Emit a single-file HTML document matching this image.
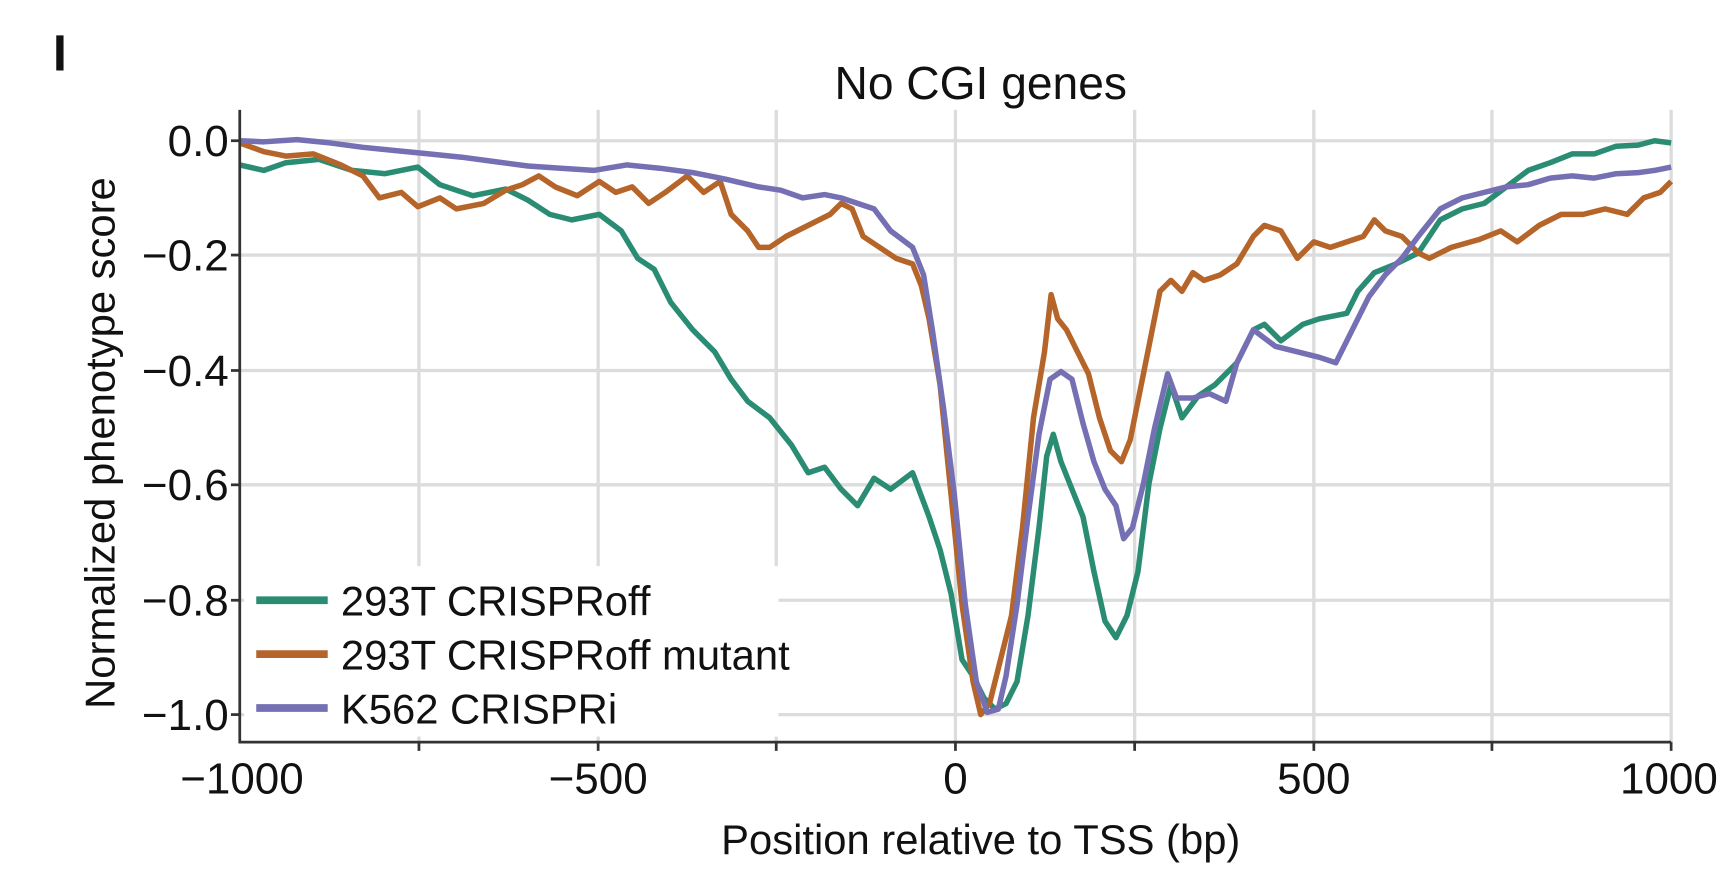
<!DOCTYPE html>
<html><head><meta charset="utf-8"><style>
html,body{margin:0;padding:0;background:#fff;}
svg{display:block;font-family:"Liberation Sans",Arial,sans-serif;}
</style></head><body>
<svg width="1724" height="874" viewBox="0 0 1568 795" xmlns="http://www.w3.org/2000/svg">
<rect width="1568" height="795" fill="#fff"/>
<text x="48" y="64" font-size="46" font-weight="bold" fill="#111">I</text>
<text x="892" y="90" font-size="42" text-anchor="middle" fill="#111">No CGI genes</text>
<g stroke="#dcdcdc" stroke-width="3">
<line x1="381" y1="100" x2="381" y2="675"/><line x1="544" y1="100" x2="544" y2="675"/>
<line x1="706" y1="100" x2="706" y2="675"/><line x1="869" y1="100" x2="869" y2="675"/>
<line x1="1032" y1="100" x2="1032" y2="675"/><line x1="1195" y1="100" x2="1195" y2="675"/>
<line x1="1357" y1="100" x2="1357" y2="675"/><line x1="1520" y1="100" x2="1520" y2="675"/>
<line x1="218" y1="128" x2="1520" y2="128"/><line x1="218" y1="232" x2="1520" y2="232"/>
<line x1="218" y1="337" x2="1520" y2="337"/><line x1="218" y1="441" x2="1520" y2="441"/>
<line x1="218" y1="546" x2="1520" y2="546"/><line x1="218" y1="650" x2="1520" y2="650"/>
</g>
<g fill="none" stroke-width="5" stroke-linejoin="round">
<polyline stroke="#2a8c72" points="218,150 240,155 260,148 290,145 320,155 350,158 380,152 400,168 430,178 460,172 480,182 500,195 520,200 545,195 565,210 580,235 595,245 610,275 630,300 650,320 665,345 680,365 700,380 720,405 735,430 750,425 765,445 780,460 795,435 810,445 830,430 845,470 855,500 865,540 875,600 885,615 895,635 905,645 915,640 925,620 935,560 945,480 952,415 958,395 965,420 975,445 985,470 995,520 1005,565 1015,580 1025,560 1035,520 1045,440 1055,390 1065,350 1075,380 1090,360 1105,350 1125,330 1140,300 1150,295 1165,310 1185,295 1200,290 1225,285 1235,265 1250,248 1270,240 1290,230 1310,200 1330,190 1350,185 1370,170 1390,155 1410,148 1430,140 1450,140 1470,133 1490,132 1505,128 1520,130"/>
<polyline stroke="#b5652a" points="218,130 240,138 260,142 285,140 310,150 330,160 345,180 365,175 380,188 400,180 415,190 440,185 460,173 475,168 490,160 505,170 525,178 545,165 560,175 575,170 590,185 605,175 625,160 640,175 655,165 665,195 680,210 690,225 700,225 715,215 735,205 755,195 765,185 775,190 785,215 800,225 815,235 830,240 838,260 845,290 855,350 865,450 875,550 885,620 892,650 900,640 910,600 920,560 930,480 940,380 950,320 956,268 962,290 970,300 980,320 990,340 1000,380 1010,410 1020,420 1028,400 1040,340 1048,300 1055,265 1065,255 1075,265 1085,248 1095,255 1110,250 1125,240 1140,215 1150,205 1165,210 1180,235 1195,220 1210,225 1225,220 1240,215 1250,200 1260,210 1275,215 1290,230 1300,235 1320,225 1345,218 1365,210 1380,220 1400,205 1420,195 1440,195 1460,190 1480,195 1495,180 1510,175 1520,165"/>
<polyline stroke="#7570b3" points="218,128 240,129 270,127 300,130 330,134 360,137 390,140 420,143 450,147 480,151 510,153 540,155 570,150 600,153 630,157 660,163 690,170 710,173 730,180 750,177 765,180 780,185 795,190 810,210 830,225 840,250 848,300 858,370 868,450 878,550 888,620 898,648 908,645 915,615 925,550 935,470 945,395 955,345 965,338 975,345 985,385 995,420 1005,445 1015,460 1022,490 1030,480 1040,440 1050,390 1062,340 1070,362 1085,362 1100,358 1115,365 1125,330 1140,300 1160,315 1180,320 1200,325 1215,330 1230,300 1245,270 1260,250 1275,235 1290,215 1310,190 1330,180 1350,175 1370,170 1390,168 1410,162 1430,160 1450,162 1470,158 1490,157 1505,155 1520,152"/>
</g>
<rect x="222" y="515" width="486" height="155" fill="#fff"/>
<g stroke-width="7">
<line x1="233" y1="546" x2="298" y2="546" stroke="#2a8c72"/>
<line x1="233" y1="595" x2="298" y2="595" stroke="#b5652a"/>
<line x1="233" y1="644" x2="298" y2="644" stroke="#7570b3"/>
</g>
<g font-size="38" fill="#111">
<text x="310" y="560">293T CRISPRoff</text>
<text x="310" y="609">293T CRISPRoff mutant</text>
<text x="310" y="658">K562 CRISPRi</text>
</g>
<g stroke="#333" stroke-width="2.5">
<line x1="218" y1="100" x2="218" y2="676"/>
<line x1="217" y1="675" x2="1520" y2="675"/>
<line x1="210" y1="128" x2="218" y2="128"/><line x1="210" y1="232" x2="218" y2="232"/>
<line x1="210" y1="337" x2="218" y2="337"/><line x1="210" y1="441" x2="218" y2="441"/>
<line x1="210" y1="546" x2="218" y2="546"/><line x1="210" y1="650" x2="218" y2="650"/>
<line x1="381" y1="675" x2="381" y2="683"/><line x1="544" y1="675" x2="544" y2="683"/>
<line x1="706" y1="675" x2="706" y2="683"/><line x1="869" y1="675" x2="869" y2="683"/>
<line x1="1032" y1="675" x2="1032" y2="683"/><line x1="1195" y1="675" x2="1195" y2="683"/>
<line x1="1357" y1="675" x2="1357" y2="683"/><line x1="1520" y1="675" x2="1520" y2="683"/>
</g>
<g font-size="40" fill="#111" text-anchor="end">
<text x="208" y="142">0.0</text><text x="208" y="246">−0.2</text>
<text x="208" y="351">−0.4</text><text x="208" y="455">−0.6</text>
<text x="208" y="560">−0.8</text><text x="208" y="664">−1.0</text>
</g>
<g font-size="40" fill="#111" text-anchor="middle">
<text x="220" y="722">−1000</text><text x="544" y="722">−500</text>
<text x="869" y="722">0</text><text x="1195" y="722">500</text><text x="1518" y="722">1000</text>
</g>
<text x="892" y="777" font-size="38" text-anchor="middle" fill="#111">Position relative to TSS (bp)</text>
<text transform="translate(104,403) rotate(-90)" font-size="38" text-anchor="middle" fill="#111">Normalized phenotype score</text>
</svg>
</body></html>
